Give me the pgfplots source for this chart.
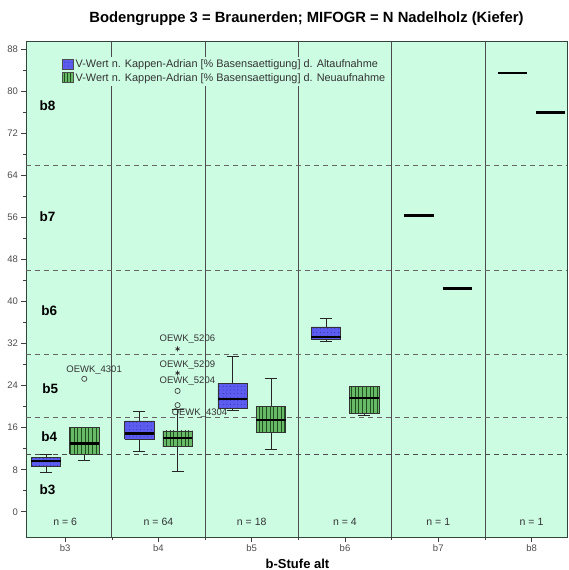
\documentclass[border=0pt]{standalone}
\usepackage{fontspec}
\setmainfont{Liberation Sans}
\usepackage{pgfplots}
\pgfplotsset{compat=1.18}
\usetikzlibrary{patterns.meta}

\definecolor{bg}{RGB}{204,252,226}
\definecolor{altblue}{RGB}{92,92,240}
\definecolor{altdot}{RGB}{40,40,140}
\definecolor{neugreen}{RGB}{104,186,104}
\definecolor{neuline}{RGB}{30,80,30}
\definecolor{framec}{RGB}{50,70,60}

\tikzset{
  altfill/.style={fill=altblue, postaction={pattern={Dots[distance=3.6pt,radius=0.45pt]}, pattern color=altdot}},
  neufill/.style={fill=neugreen, postaction={pattern={Lines[angle=90,distance=3.7pt,line width=0.9pt]}, pattern color=neuline}},
}

% #1 fill style, #2 position, #3 lower whisker, #4 Q1, #5 median, #6 Q3, #7 upper whisker
\newcommand\bx[7]{%
  \pgfmathsetmacro\bL{#2-0.158}\pgfmathsetmacro\bR{#2+0.158}%
  \pgfmathsetmacro\cL{#2-0.065}\pgfmathsetmacro\cR{#2+0.065}%
  \addplot[forget plot, draw=black!85, line width=0.7pt] coordinates {(#2,#3) (#2,#4)};
  \addplot[forget plot, draw=black!85, line width=0.7pt] coordinates {(#2,#6) (#2,#7)};
  \addplot[forget plot, draw=black!85, line width=1pt] coordinates {(\cL,#3) (\cR,#3)};
  \addplot[forget plot, draw=black!85, line width=1pt] coordinates {(\cL,#7) (\cR,#7)};
  \addplot[forget plot, #1, draw=black!80, line width=0.6pt] coordinates {(\bL,#4) (\bR,#4) (\bR,#6) (\bL,#6) (\bL,#4)};
  \addplot[forget plot, black, line width=2.2pt] coordinates {(\bL,#5) (\bR,#5)};
}

\begin{document}
\begin{tikzpicture}
\begin{axis}[
  name=ax,
  scale only axis,
  width=541pt, height=496pt,
  xmin=-0.42, xmax=5.38,
  ymin=-4.8, ymax=89.6,
  axis background/.style={fill=bg},
  axis line style={draw=framec, line width=0.8pt},
  xtick={0,1,2,3,4,5},
  xticklabels={b3,b4,b5,b6,b7,b8},
  xtick pos=left, ytick pos=left,
  tick align=outside,
  major tick length=4.5pt, minor tick length=2.5pt,
  ytick={0,8,...,88},
  minor y tick num=1,
  tick style={draw=black!75, line width=0.6pt},
  /pgf/number format/assume math mode=true,
  tick label style={font=\fontsize{9.5}{11}\selectfont, text=black!70},
  extra x ticks={0.5,1.5,2.5,3.5,4.5},
  extra x tick labels={},
  extra x tick style={grid=major, major grid style={draw=black!70, line width=0.7pt}, major tick length=3pt},
  legend style={at={(0.064,0.968)}, anchor=north west, fill=bg, draw=none,
    font=\fontsize{10.9}{12}\selectfont, inner sep=1pt, row sep=0pt, text=black!80},
  legend cell align=left,
]
\addlegendimage{legend image code/.code={\draw[draw=black!70, altfill] (0pt,-4.5pt) rectangle (11pt,5.5pt);}}
\addlegendentry{V-Wert n. Kappen-Adrian [\% Basensaettigung] d. Altaufnahme}
\addlegendimage{legend image code/.code={\draw[draw=black!70, fill=neugreen, postaction={pattern={Lines[angle=90,distance=2.7pt,line width=0.8pt]}, pattern color=neuline}] (0pt,-4.5pt) rectangle (11pt,5.5pt);}}
\addlegendentry{V-Wert n. Kappen-Adrian [\% Basensaettigung] d. Neuaufnahme}

% class boundaries
\addplot[forget plot, dash pattern=on 5pt off 4pt, draw=black!70, line width=0.7pt] coordinates {(-0.42,11) (5.38,11)};
\addplot[forget plot, dash pattern=on 5pt off 4pt, draw=black!60, line width=0.7pt] coordinates {(-0.42,18) (5.38,18)};
\addplot[forget plot, dash pattern=on 5pt off 4pt, draw=black!60, line width=0.7pt] coordinates {(-0.42,30) (5.38,30)};
\addplot[forget plot, dash pattern=on 5pt off 4pt, draw=black!60, line width=0.7pt] coordinates {(-0.42,46) (5.38,46)};
\addplot[forget plot, dash pattern=on 5pt off 4pt, draw=black!60, line width=0.7pt] coordinates {(-0.42,66) (5.38,66)};

% boxes: Altaufnahme (left) and Neuaufnahme (right)
\bx{altfill}{-0.205}{7.4}{8.6}{9.6}{10.4}{10.9}
\bx{neufill}{0.205}{9.7}{11.0}{13.0}{16.1}{16.1}
\bx{altfill}{0.795}{11.4}{13.8}{14.9}{17.3}{19.0}
\bx{neufill}{1.205}{7.7}{12.4}{14.0}{15.4}{19.5}
\bx{altfill}{1.795}{19.3}{19.7}{21.4}{24.5}{29.5}
\bx{neufill}{2.205}{11.9}{15.2}{17.4}{20.1}{25.3}
\bx{altfill}{2.795}{32.4}{32.8}{33.3}{35.2}{36.8}
\bx{neufill}{3.205}{18.4}{18.8}{21.6}{23.8}{23.9}

% b7, b8 single values
\addplot[forget plot, black, line width=2.2pt] coordinates {(3.637,56.4) (3.953,56.4)};
\addplot[forget plot, black, line width=2.2pt] coordinates {(4.047,42.5) (4.363,42.5)};
\addplot[forget plot, black, line width=2.2pt] coordinates {(4.637,83.5) (4.953,83.5)};
\addplot[forget plot, black, line width=2.2pt] coordinates {(5.047,76.0) (5.363,76.0)};

% outliers
\addplot[forget plot, only marks, mark=o, mark size=2.6pt, draw=black!75, mark options={line width=0.7pt}] coordinates {(0.205,25.3) (1.205,20.3) (1.205,23.0)};
\addplot[forget plot, only marks, mark=asterisk, mark size=2.4pt, draw=black!80, mark options={line width=0.7pt}] coordinates {(1.205,26.4) (1.205,31.0)};

% outlier labels
\begin{scope}[every node/.style={font=\fontsize{9.5}{11}\selectfont, text=black!80, inner sep=0pt}]
\node at (axis cs:0.31,27.0) {OEWK\_4301};
\node at (axis cs:1.31,32.8) {OEWK\_5206};
\node at (axis cs:1.31,28.0) {OEWK\_5209};
\node at (axis cs:1.31,24.8) {OEWK\_5204};
\node at (axis cs:1.44,18.7) {OEWK\_4304};
\end{scope}

% class labels
\begin{scope}[every node/.style={font=\bfseries\fontsize{13.5}{15}\selectfont, inner sep=0pt}]
\node at (axis cs:-0.19,77.3) {b8};
\node at (axis cs:-0.19,56.2) {b7};
\node at (axis cs:-0.17,38.3) {b6};
\node at (axis cs:-0.16,23.5) {b5};
\node at (axis cs:-0.17,14.3) {b4};
\node at (axis cs:-0.19,4.3) {b3};
\end{scope}

% n labels
\begin{scope}[every node/.style={font=\fontsize{10.5}{12}\selectfont, text=black!80, inner sep=0pt}]
\node at (axis cs:0,-2.0) {n = 6};
\node at (axis cs:1,-2.0) {n = 64};
\node at (axis cs:2,-2.0) {n = 18};
\node at (axis cs:3,-2.0) {n = 4};
\node at (axis cs:4,-2.0) {n = 1};
\node at (axis cs:5,-2.0) {n = 1};
\end{scope}
\end{axis}
\node[font=\bfseries\fontsize{14.8}{16}\selectfont, inner sep=0pt] at ([xshift=10pt,yshift=22pt]ax.north) {Bodengruppe 3 = Braunerden; MIFOGR = N Nadelholz (Kiefer)};
\node[font=\bfseries\fontsize{13}{15}\selectfont, inner sep=0pt, anchor=base] at ([xshift=1pt,yshift=-31pt]ax.south) {b-Stufe alt};
\pgfresetboundingbox
\path ([xshift=-26pt,yshift=-33pt]ax.south west) rectangle ([xshift=2pt,yshift=41pt]ax.north east);
\end{tikzpicture}
\end{document}
